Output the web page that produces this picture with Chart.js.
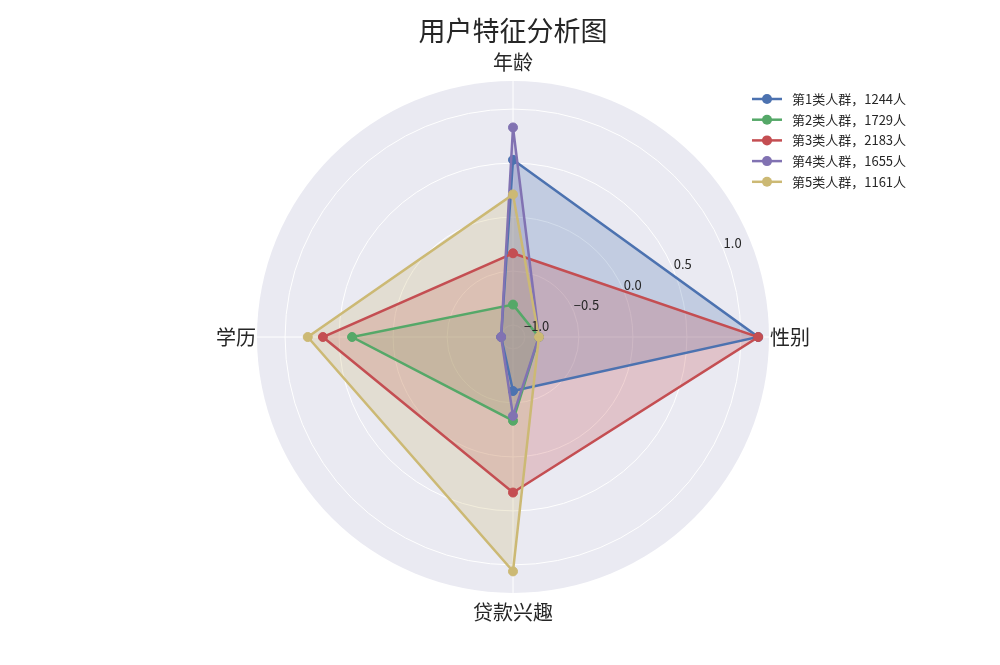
<!DOCTYPE html>
<html>
<head>
<meta charset="utf-8">
<script src="https://cdn.jsdelivr.net/npm/chart.js@4.4.1/dist/chart.umd.min.js"></script>
<style>
  html, body { margin: 0; padding: 0; background: #ffffff; }
  #wrap { width: 1000px; height: 665px; }
</style>
</head>
<body>
<div id="wrap"><canvas id="c" width="1000" height="665"></canvas></div>
<script>
// ---- data ----
const chartTitle = '用户特征分析图';
const categories = ['年龄', '性别', '贷款兴趣', '学历'];
const seriesNames = ['第1类人群，1244人', '第2类人群，1729人', '第3类人群，2183人', '第4类人群，1655人', '第5类人群，1161人'];
const series1 = [0.53, 1.16, -0.61, -1.0];
const series2 = [-0.81, -0.87, -0.335, 0.38];
const series3 = [-0.335, 1.16, 0.33, 0.65];
const series4 = [0.83, -0.87, -0.38, -1.0];
const series5 = [0.21, -0.87, 1.06, 0.79];
const tickValues = [-1.0, -0.5, 0.0, 0.5, 1.0];
const tickLabels = ['\u22121.0', '\u22120.5', '0.0', '0.5', '1.0'];
const rMin = -1.11;
const rMax = 1.26;

const colors = ['#4C72B0', '#55A868', '#C44E52', '#8172B2', '#CCB974'];
const allSeries = [series1, series2, series3, series4, series5];
const FONT = "'Noto Sans CJK SC', 'Noto Sans', sans-serif";
const TEXT = '#262626';

function hexA(hex, a) {
  const n = parseInt(hex.slice(1), 16);
  return 'rgba(' + ((n >> 16) & 255) + ',' + ((n >> 8) & 255) + ',' + (n & 255) + ',' + a + ')';
}

const datasets = allSeries.map((s, i) => ({
  label: seriesNames[i],
  data: s,
  borderColor: colors[i],
  backgroundColor: hexA(colors[i], 0.25),
  pointBackgroundColor: colors[i],
  pointBorderColor: colors[i],
  pointRadius: 4.5,
  pointBorderWidth: 1,
  borderWidth: 2.5,
  fill: 'start',
  order: allSeries.length - i
}));

const decor = {
  id: 'decor',
  afterDraw(chart) {
    const ctx = chart.ctx;
    const sc = chart.scales.r;
    ctx.save();
    // title
    ctx.fillStyle = TEXT;
    ctx.font = '27px ' + FONT;
    ctx.textAlign = 'center';
    ctx.textBaseline = 'middle';
    ctx.fillText(chartTitle, sc.xCenter, 31);
    // radial tick labels at 22.5 degrees
    const ang = 22.5 * Math.PI / 180;
    ctx.font = '13px ' + FONT;
    ctx.textAlign = 'left';
    ctx.textBaseline = 'bottom';
    tickValues.forEach((v, i) => {
      const d = sc.getDistanceFromCenterForValue(v);
      const x = sc.xCenter + d * Math.cos(ang);
      const y = sc.yCenter - d * Math.sin(ang);
      ctx.fillText(tickLabels[i], x, y);
    });
    // legend
    const lx0 = 752, lx1 = 782, tx = 792, y0 = 99, dy = 20.7;
    ctx.font = '13px ' + FONT;
    ctx.textBaseline = 'middle';
    seriesNames.forEach((name, i) => {
      const y = y0 + i * dy;
      ctx.strokeStyle = colors[i];
      ctx.lineWidth = 2.5;
      ctx.beginPath();
      ctx.moveTo(lx0, y);
      ctx.lineTo(lx1, y);
      ctx.stroke();
      ctx.fillStyle = colors[i];
      ctx.beginPath();
      ctx.arc((lx0 + lx1) / 2, y, 5, 0, Math.PI * 2);
      ctx.fill();
      ctx.fillStyle = TEXT;
      ctx.fillText(name, tx, y);
    });
    ctx.restore();
  }
};

new Chart(document.getElementById('c'), {
  type: 'radar',
  data: { labels: categories, datasets: datasets },
  options: {
    responsive: false,
    devicePixelRatio: 1,
    animation: false,
    events: [],
    layout: { padding: { left: 173, right: 147, top: 50, bottom: 41 } },
    elements: { line: { tension: 0 } },
    plugins: {
      legend: { display: false },
      title: { display: false },
      tooltip: { enabled: false },
      filler: { propagate: false, drawTime: 'beforeDatasetsDraw' }
    },
    scales: {
      r: {
        min: rMin,
        max: rMax,
        backgroundColor: '#EAEAF2',
        afterBuildTicks: (scale) => {
          scale.ticks = [{ value: rMin }].concat(tickValues.map(v => ({ value: v })));
        },
        ticks: { display: false },
        grid: {
          circular: true,
          color: (c) => (c.index === 0 ? 'rgba(0,0,0,0)' : '#ffffff'),
          lineWidth: 1
        },
        angleLines: { display: true, color: '#ffffff', lineWidth: 1 },
        pointLabels: {
          display: true,
          font: { size: 20, family: FONT },
          color: TEXT,
          padding: (c) => (c.index === 0 || c.index === 2 ? 7 : 1)
        }
      }
    }
  },
  plugins: [decor]
});
</script>
</body>
</html>
